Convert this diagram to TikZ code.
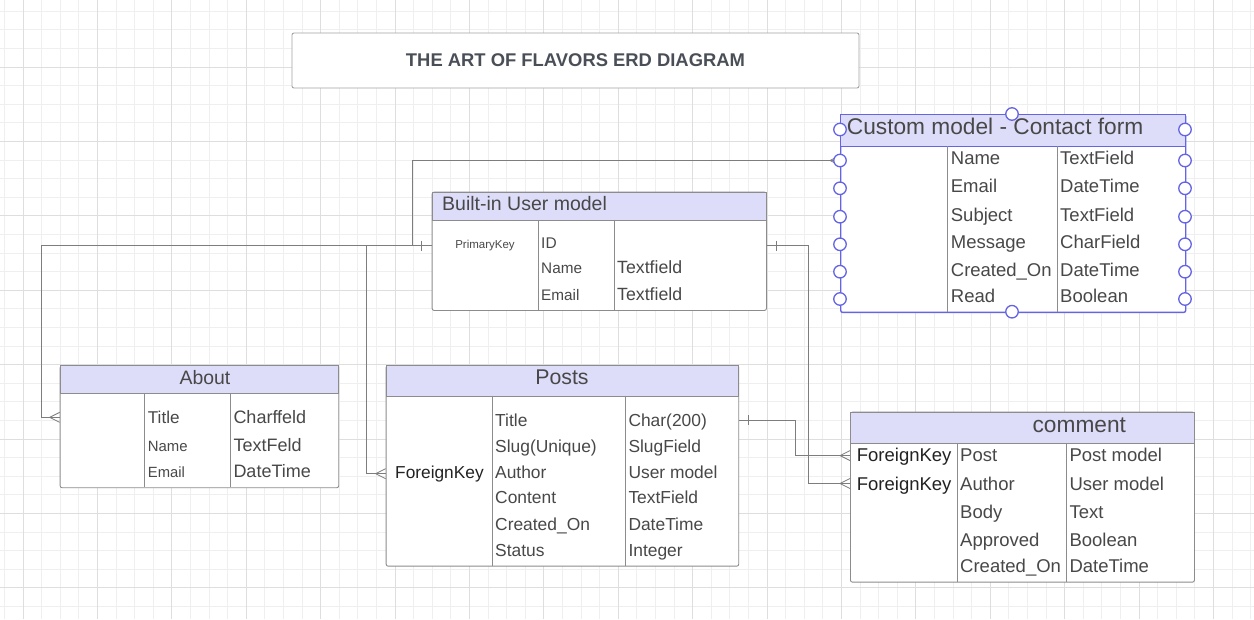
\documentclass[tikz,border=0pt]{standalone}
\usepackage{fontspec}
\setmainfont{Liberation Sans}
\usetikzlibrary{calc}
\definecolor{gridminor}{RGB}{239,239,239}
\definecolor{gridmajor}{RGB}{222,222,222}
\definecolor{hdrfill}{RGB}{221,221,250}
\definecolor{tborder}{RGB}{140,140,140}
\definecolor{txt}{RGB}{72,72,72}
\definecolor{txtdark}{RGB}{34,34,34}
\definecolor{blueline}{RGB}{100,100,228}
\definecolor{connc}{RGB}{125,125,125}
\definecolor{titletxt}{RGB}{74,79,87}
\newcommand\fs[1]{\fontsize{#1}{#1}\selectfont}
\tikzset{
  tbl/.style={draw=tborder, line width=0.9pt, fill=white, rounded corners=2pt, anchor=north west, inner sep=0pt},
  hdr/.style={draw=tborder, line width=0.9pt, fill=hdrfill, anchor=north west, inner sep=0pt},
  tline/.style={draw=tborder, line width=0.9pt},
  cell/.style={anchor=mid west, inner sep=0pt, text=txt, yshift=-2.5pt},
  hdcell/.style={anchor=mid west, inner sep=0pt, text=txt, yshift=-4pt},
  fkcell/.style={anchor=mid west, inner sep=0pt, text=txtdark, yshift=-2.5pt},
  hcell/.style={anchor=mid, inner sep=0pt, text=txt, yshift=-4pt},
  conn/.style={draw=connc, line width=0.8pt},
  port/.style={circle, draw=blueline, fill=white, line width=1.3pt, minimum size=12.5pt, inner sep=0pt},
  crow/.pic={\draw[conn] (-10,0) -- (0,-5) (-10,0) -- (0,5);},
  onebar/.pic={\draw[conn] (0,-5) -- (0,5);}
}
\begin{document}
\begin{tikzpicture}[x=1pt,y=-1pt]
\useasboundingbox (0,0) rectangle (1254,619);
\fill[white] (0,0) rectangle (1254,619);
% grid
\foreach \i in {0,...,67} \draw[gridminor, line width=0.8pt] ({4.4+18.6*\i},0) -- ({4.4+18.6*\i},619);
\foreach \i in {0,...,32} \draw[gridminor, line width=0.8pt] (0,{11.2+18.6*\i}) -- (1254,{11.2+18.6*\i});
\foreach \i in {0,...,16} \draw[gridmajor, line width=0.8pt] ({23+74.4*\i},0) -- ({23+74.4*\i},619);
\foreach \i in {0,...,7} \draw[gridmajor, line width=0.8pt] (0,{67+74.4*\i}) -- (1254,{67+74.4*\i});

% title
\node[draw=tborder!80, line width=0.9pt, fill=white, rounded corners=2pt, minimum width=567pt, minimum height=55pt, inner sep=0pt, text=titletxt, font=\bfseries\fs{18.4}] (title) at (575.5,60.5) {THE ART OF FLAVORS ERD DIAGRAM};

% ===== Built-in User model =====
\node[tbl, minimum width=334.3pt, minimum height=118.3pt] (user) at (431.7,191.7) {};
\node[hdr, minimum width=334.3pt, minimum height=28.3pt] (userh) at (431.7,191.7) {};
\draw[tline] (538.3,220) -- (538.3,310);
\draw[tline] (614.7,220) -- (614.7,310);
\node[hdcell, font=\fs{19.5}] (userhead) at (442,203.7) {Built-in User model};
\node[cell, anchor=mid, font=\fs{11.5}] (pk) at (485,243.5) {PrimaryKey};
\node[cell, font=\fs{15.5}] (uid) at (541,243.5) {ID};
\node[cell, font=\fs{15.3}] (uname) at (541,268.3) {Name};
\node[cell, font=\fs{15.3}] (uemail) at (541,295) {Email};
\node[cell, font=\fs{17.7}] (unamet) at (617,268.3) {Textfield};
\node[cell, font=\fs{17.7}] (uemailt) at (617,295) {Textfield};

% ===== About =====
\node[tbl, minimum width=278.6pt, minimum height=122pt] (about) at (59.7,365.3) {};
\node[hdr, minimum width=278.6pt, minimum height=28pt] (abouth) at (59.7,365.3) {};
\draw[tline] (144.3,393.3) -- (144.3,487.3);
\draw[tline] (230.7,393.3) -- (230.7,487.3);
\node[hcell, font=\fs{19.4}] (abouthead) at (205,377.7) {About};
\node[cell, font=\fs{17.1}] (atitle) at (147.7,418.3) {Title};
\node[cell, font=\fs{14.9}] (aname) at (147.7,446) {Name};
\node[cell, font=\fs{14.8}] (aemail) at (147.7,472.7) {Email};
\node[cell, font=\fs{18}] (atitlet) at (233.3,418.3) {Charffeld};
\node[cell, font=\fs{18}] (anamet) at (233.3,446) {TextFeld};
\node[cell, font=\fs{18}] (aemailt) at (233.3,472.7) {DateTime};

% ===== Posts =====
\node[tbl, minimum width=352.6pt, minimum height=200.7pt] (posts) at (385.7,365) {};
\node[hdr, minimum width=352.6pt, minimum height=30.7pt] (postsh) at (385.7,365) {};
\draw[tline] (492.3,395.7) -- (492.3,565.7);
\draw[tline] (625.7,395.7) -- (625.7,565.7);
\node[hcell, font=\fs{21.3}] (postshead) at (562,378.3) {Posts};
\node[fkcell, font=\fs{17.3}] (pfk) at (395,473) {ForeignKey};
\node[cell, font=\fs{17.4}] (ptitle) at (495,421) {Title};
\node[cell, font=\fs{17.4}] (pslug) at (495,447) {Slug(Unique)};
\node[cell, font=\fs{17.4}] (pauthor) at (495,473) {Author};
\node[cell, font=\fs{17.4}] (pcontent) at (495,498.3) {Content};
\node[cell, font=\fs{17.4}] (pcreated) at (495,525) {Created\_On};
\node[cell, font=\fs{17.4}] (pstatus) at (495,551) {Status};
\node[cell, font=\fs{17.4}] (ptitlet) at (628.3,421) {Char(200)};
\node[cell, font=\fs{17.4}] (pslugt) at (628.3,447) {SlugField};
\node[cell, font=\fs{17.4}] (pauthort) at (628.3,473) {User model};
\node[cell, font=\fs{17.4}] (pcontentt) at (628.3,498.3) {TextField};
\node[cell, font=\fs{17.4}] (pcreatedt) at (628.3,525) {DateTime};
\node[cell, font=\fs{17.4}] (pstatust) at (628.3,551) {Integer};

% ===== comment =====
\node[tbl, minimum width=344pt, minimum height=170pt] (comment) at (850,411.7) {};
\node[hdr, minimum width=344pt, minimum height=31.6pt] (commenth) at (850,411.7) {};
\draw[tline] (957.3,443.3) -- (957.3,581.7);
\draw[tline] (1066.7,443.3) -- (1066.7,581.7);
\node[hcell, font=\fs{22.7}] (commenthead) at (1079.3,426) {comment};
\node[fkcell, font=\fs{18.5}] (cfk1) at (856.7,456.7) {ForeignKey};
\node[fkcell, font=\fs{18.5}] (cfk2) at (856.7,485) {ForeignKey};
\node[cell, font=\fs{18.5}] (cpost) at (960,456.7) {Post};
\node[cell, font=\fs{18.5}] (cauthor) at (960,485) {Author};
\node[cell, font=\fs{18.5}] (cbody) at (960,513.3) {Body};
\node[cell, font=\fs{18.5}] (capproved) at (960,541) {Approved};
\node[cell, font=\fs{18.5}] (ccreated) at (960,567.7) {Created\_On};
\node[cell, font=\fs{18.5}] (cpostt) at (1069.3,456.7) {Post model};
\node[cell, font=\fs{18.5}] (cauthort) at (1069.3,485) {User model};
\node[cell, font=\fs{18.5}] (cbodyt) at (1069.3,513.3) {Text};
\node[cell, font=\fs{18.5}] (capprovedt) at (1069.3,541) {Boolean};
\node[cell, font=\fs{18.5}] (ccreatedt) at (1069.3,567.7) {DateTime};

% ===== connectors =====
\coordinate (ua) at (user.west |- pk);
\coordinate (ue) at (user.east |- pk);
\coordinate (ab) at (about.west |- atitle);
\coordinate (pf) at (posts.west |- pfk);
\coordinate (pe) at (posts.east |- ptitle);
\coordinate (cp) at (comment.west |- cpost);
\coordinate (ca) at (comment.west |- cauthor);
\coordinate (cl1) at (840,160.5);
\draw[conn] (ua) -- ++(-390.7,0) |- (ab);
\draw[conn] (ua) -- ++(-65,0) |- (pf);
\draw[conn] (ua) -- ++(-19,0) |- (cl1);
\draw[conn] (ue) -- ++(41.7,0) |- (ca);
\draw[conn] (pe) -- ++(55.7,0) |- (cp);
\pic at ($(ua)+(-10,0)$) {onebar};
\pic at ($(ue)+(9.7,0)$) {onebar};
\pic at ($(pe)+(9.4,0)$) {onebar};
\pic at (ab) {crow};
\pic at (pf) {crow};
\pic at (cp) {crow};
\pic at (ca) {crow};
\pic at (cl1) {crow};

% ===== Custom model - Contact form =====
\node[tbl, draw=blueline, line width=1.4pt, minimum width=345pt, minimum height=197.7pt] (contact) at (840,114) {};
\node[hdr, draw=blueline, line width=1.4pt, minimum width=345pt, minimum height=32pt] (contacth) at (840,114) {};
\draw[tline] (947.7,146) -- (947.7,311.7);
\draw[tline] (1057.3,146) -- (1057.3,311.7);
\node[hdcell, font=\fs{22.7}] (contacthead) at (846.7,128.3) {Custom model - Contact form};
\node[cell, font=\fs{18.5}] (cfname) at (950.7,159.3) {Name};
\node[cell, font=\fs{18.5}] (cfemail) at (950.7,187.7) {Email};
\node[cell, font=\fs{18.5}] (cfsubject) at (950.7,216) {Subject};
\node[cell, font=\fs{18.5}] (cfmessage) at (950.7,243.7) {Message};
\node[cell, font=\fs{18.5}] (cfcreated) at (950.7,271) {Created\_On};
\node[cell, font=\fs{18.5}] (cfread) at (950.7,297) {Read};
\node[cell, font=\fs{18.5}] (cfnamet) at (1060,159.3) {TextField};
\node[cell, font=\fs{18.5}] (cfemailt) at (1060,187.7) {DateTime};
\node[cell, font=\fs{18.5}] (cfsubjectt) at (1060,216) {TextField};
\node[cell, font=\fs{18.5}] (cfmessaget) at (1060,243.7) {CharField};
\node[cell, font=\fs{18.5}] (cfcreatedt) at (1060,271) {DateTime};
\node[cell, font=\fs{18.5}] (cfreadt) at (1060,297) {Boolean};
\foreach \y [count=\k from 0] in {129.5,160.5,188.3,216.7,244.3,271.7,299} {
  \node[port] (pl\k) at (840,\y) {};
  \node[port] (pr\k) at (1185,\y) {};
}
\node[port] (ptop) at (1012,114) {};
\node[port] (pbot) at (1012,311.7) {};
\end{tikzpicture}
\end{document}
